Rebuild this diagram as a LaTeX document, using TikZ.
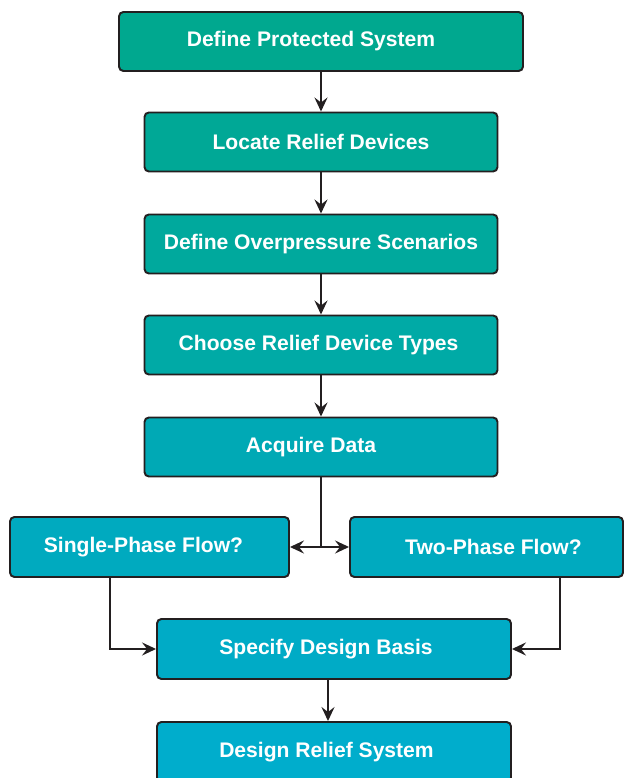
\documentclass[tikz,border=0pt]{standalone}
\usepackage{fontspec}
\setmainfont{Liberation Sans}
\usetikzlibrary{arrows.meta}
\definecolor{stepA}{RGB}{0,168,143}
\definecolor{stepB}{RGB}{0,168,150}
\definecolor{stepC}{RGB}{0,169,157}
\definecolor{stepD}{RGB}{0,170,166}
\definecolor{stepE}{RGB}{0,169,181}
\definecolor{stepF}{RGB}{0,170,191}
\definecolor{stepG}{RGB}{0,171,198}
\definecolor{stepH}{RGB}{0,173,204}
\definecolor{linegray}{RGB}{35,31,32}

\begin{document}
\begin{tikzpicture}[
		stepbox/.style={draw=linegray, line width=1.1pt, rounded corners=2.5pt, minimum height=1.18cm,
			text=white, font=\fontsize{12}{14}\selectfont\bfseries},
		textleft/.style={execute at end node={\hspace*{#1}}},
		textright/.style={execute at begin node={\hspace*{#1}}},
		flow/.style={draw=linegray, line width=1.1pt, -{Stealth[length=2.8mm, width=2.6mm, inset=1mm]}}
	]
			%%%%% START %%%%%
			
			\useasboundingbox (0, 0) rectangle (12.52, 15.56);
			
			\node[stepbox, fill=stepA, minimum width=8.08cm, textleft=0.4cm] (protsys) at (6.42, 14.73) {Define Protected System};
			\node[stepbox, fill=stepB, minimum width=7.06cm] (locate) at (6.42, 12.72) {Locate Relief Devices};
			\node[stepbox, fill=stepC, minimum width=7.06cm] (scenarios) at (6.42, 10.68) {Define Overpressure Scenarios};
			\node[stepbox, fill=stepD, minimum width=7.06cm, textleft=0.1cm] (types) at (6.42, 8.66) {Choose Relief Device Types};
			\node[stepbox, fill=stepE, minimum width=7.06cm, textleft=0.4cm] (acquire) at (6.42, 6.62) {Acquire Data};
			
			\node[stepbox, fill=stepF, minimum width=5.58cm, minimum height=1.2cm, textleft=0.24cm] (single) at (2.99, 4.62) {Single-Phase Flow?};
			\node[stepbox, fill=stepF, minimum width=5.46cm, minimum height=1.2cm, textright=0.28cm] (twophase) at (9.73, 4.62) {Two-Phase Flow?};
			
			\node[stepbox, fill=stepG, minimum width=7.08cm, minimum height=1.2cm, textleft=0.32cm] (basis) at (6.68, 2.58) {Specify Design Basis};
			\node[stepbox, fill=stepH, minimum width=7.08cm, minimum height=1.2cm, textleft=0.3cm] (design) at (6.68, 0.52) {Design Relief System};
			
			\draw[flow] (protsys) -- (locate);
			\draw[flow] (locate) -- (scenarios);
			\draw[flow] (scenarios) -- (types);
			\draw[flow] (types) -- (acquire);
			
			\coordinate (split) at (acquire.south |- single.east);
			\draw[draw=linegray, line width=1.1pt] (acquire.south) -- (split);
			\draw[flow] (split) -- (single.east);
			\draw[flow] (split) -- (twophase.west);
			
			\draw[flow] ([xshift=-0.79cm]single.south) |- (basis.west);
			\draw[flow] ([xshift=1.47cm]twophase.south) |- (basis.east);
			
			\draw[flow] ([xshift=-0.12cm]basis.south) -- ([xshift=-0.12cm]design.north);
			
			%%%%% END %%%%%
\end{tikzpicture}
\end{document}
